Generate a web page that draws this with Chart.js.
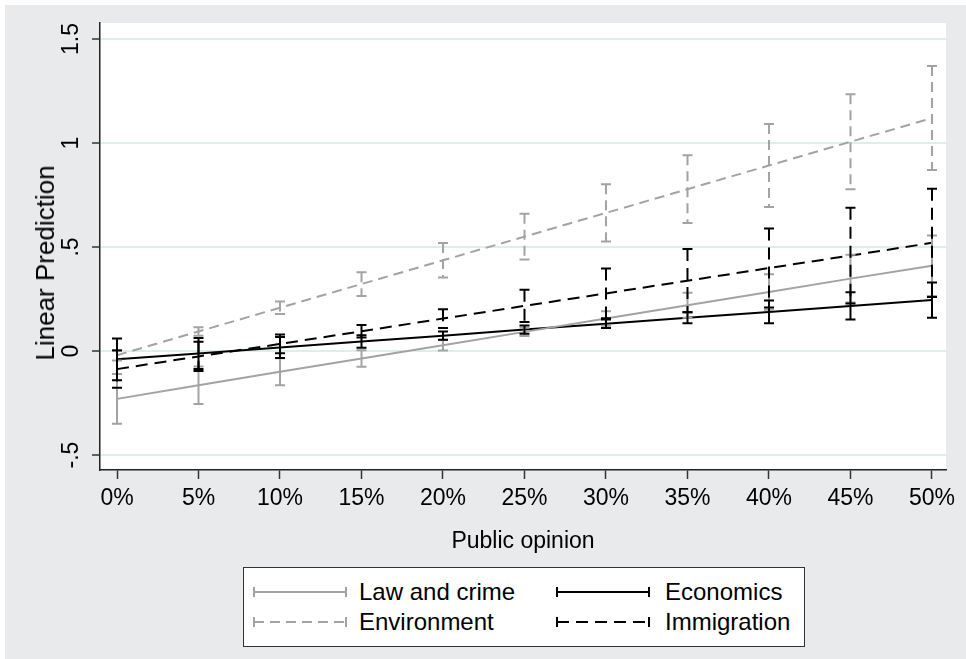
<!DOCTYPE html>
<html>
<head>
<meta charset="utf-8">
<script src="https://cdn.jsdelivr.net/npm/chart.js@4/dist/chart.umd.min.js"></script>
<style>
  html, body { margin: 0; padding: 0; background: #ffffff; }
  #wrap { position: relative; width: 966px; height: 659px; }
  #chart { position: absolute; left: 0; top: 0; }
  #ytitle {
    position: absolute; left: 45px; top: 263px;
    transform: translate(-50%, -50%) rotate(-90deg);
    font-family: "Liberation Sans", Arial, sans-serif; font-size: 26px; color: #000;
    white-space: nowrap; line-height: 30px;
  }
  #legend {
    position: absolute; left: 243px; top: 567px; width: 560px; height: 78px;
    background: #ffffff; border: 1.5px solid #333333;
    font-family: "Liberation Sans", Arial, sans-serif; font-size: 24px; color: #000;
  }
  #legend .item { position: absolute; height: 28px; line-height: 28px; white-space: nowrap; }
  #legend svg { position: absolute; }
</style>
</head>
<body>
<div id="wrap">
  <canvas id="chart" width="966" height="659"></canvas>
  <div id="ytitle">Linear Prediction</div>
  <div id="legend"></div>
</div>
<script>
// Public opinion levels (percent)
const opinion = [0, 5, 10, 15, 20, 25, 30, 35, 40, 45, 50];

// Linear predictions with 95% confidence bounds, by policy area
const lawCrime   = [-0.23, -0.165, -0.10, -0.036, 0.028, 0.092, 0.156, 0.22, 0.284, 0.348, 0.41];
const lawCrimeLo = [-0.35, -0.255, -0.165, -0.076, 0.003, 0.072, 0.121, 0.16, 0.199, 0.233, 0.265];
const lawCrimeHi = [-0.11, -0.075, -0.035, 0.004, 0.053, 0.112, 0.191, 0.28, 0.369, 0.463, 0.555];

const environment   = [-0.02, 0.094, 0.208, 0.322, 0.436, 0.55, 0.664, 0.778, 0.892, 1.006, 1.12];
const environmentLo = [-0.045, 0.074, 0.178, 0.265, 0.353, 0.44, 0.526, 0.615, 0.692, 0.778, 0.87];
const environmentHi = [0.005, 0.114, 0.238, 0.379, 0.519, 0.66, 0.802, 0.941, 1.092, 1.234, 1.37];

const economics   = [-0.04, -0.012, 0.017, 0.046, 0.074, 0.103, 0.131, 0.16, 0.188, 0.217, 0.245];
const economicsLo = [-0.14, -0.087, -0.033, 0.016, 0.054, 0.083, 0.111, 0.133, 0.133, 0.152, 0.16];
const economicsHi = [0.06, 0.063, 0.067, 0.076, 0.094, 0.123, 0.151, 0.187, 0.243, 0.282, 0.33];

const immigration   = [-0.087, -0.026, 0.034, 0.095, 0.156, 0.217, 0.277, 0.338, 0.399, 0.459, 0.52];
const immigrationLo = [-0.177, -0.096, -0.011, 0.065, 0.111, 0.14, 0.157, 0.186, 0.209, 0.229, 0.26];
const immigrationHi = [0.003, 0.044, 0.079, 0.125, 0.201, 0.294, 0.397, 0.49, 0.589, 0.689, 0.78];

// Axis ticks
const xTicks = [0, 5, 10, 15, 20, 25, 30, 35, 40, 45, 50];
const yTicks = [-0.5, 0, 0.5, 1, 1.5];
const yTickLabels = ['-.5', '0', '.5', '1', '1.5'];

const GRAY = '#a3a3a3';
const BLACK = '#000000';
const FONT = '"Liberation Sans", Arial, sans-serif';

const series = [
  { label: 'Law and crime', y: lawCrime, lo: lawCrimeLo, hi: lawCrimeHi, color: GRAY, dash: [] },
  { label: 'Environment', y: environment, lo: environmentLo, hi: environmentHi, color: GRAY, dash: [10, 6] },
  { label: 'Economics', y: economics, lo: economicsLo, hi: economicsHi, color: BLACK, dash: [] },
  { label: 'Immigration', y: immigration, lo: immigrationLo, hi: immigrationHi, color: BLACK, dash: [12, 7] }
];

const datasets = series.map(s => ({
  label: s.label,
  data: opinion.map((x, i) => ({ x: x, y: s.y[i] })),
  lo: s.lo,
  hi: s.hi,
  borderColor: s.color,
  borderWidth: 2,
  borderDash: s.dash,
  pointRadius: 0,
  fill: false,
  tension: 0
}));

// Page background and white plot region
const backdrop = {
  id: 'backdrop',
  beforeDraw(chart) {
    const { ctx, chartArea: a } = chart;
    ctx.save();
    ctx.fillStyle = '#ffffff';
    ctx.fillRect(0, 0, chart.width, chart.height);
    ctx.fillStyle = '#e9eaec';
    ctx.fillRect(5, 5, chart.width - 5, chart.height - 5);
    ctx.fillStyle = '#ffffff';
    ctx.fillRect(a.left, a.top, a.right - a.left, a.bottom - a.top);
    ctx.restore();
  }
};

// Capped confidence intervals at each opinion level
const errorBars = {
  id: 'errorBars',
  afterDatasetsDraw(chart) {
    const { ctx, scales: { x, y } } = chart;
    const cap = 5;
    chart.data.datasets.forEach((ds) => {
      ctx.save();
      ctx.strokeStyle = ds.borderColor;
      ctx.lineWidth = 2;
      ds.data.forEach((p, i) => {
        const px = x.getPixelForValue(p.x);
        const yl = y.getPixelForValue(ds.lo[i]);
        const yh = y.getPixelForValue(ds.hi[i]);
        ctx.setLineDash(ds.borderDash);
        ctx.beginPath();
        ctx.moveTo(px, yh);
        ctx.lineTo(px, yl);
        ctx.stroke();
        ctx.setLineDash([]);
        ctx.beginPath();
        ctx.moveTo(px - cap, yh); ctx.lineTo(px + cap, yh);
        ctx.moveTo(px - cap, yl); ctx.lineTo(px + cap, yl);
        ctx.stroke();
      });
      ctx.restore();
    });
  }
};

new Chart(document.getElementById('chart'), {
  type: 'line',
  data: { datasets: datasets },
  plugins: [backdrop, errorBars],
  options: {
    responsive: false,
    animation: false,
    layout: { padding: { left: 0, top: 23, right: 20, bottom: 99 } },
    plugins: { legend: { display: false }, tooltip: { enabled: false } },
    scales: {
      x: {
        type: 'linear',
        min: -1.043,
        max: 50.86,
        afterBuildTicks: (s) => { s.ticks = xTicks.map(v => ({ value: v })); },
        afterFit: (s) => { s.height = 90; },
        ticks: {
          autoSkip: false,
          maxRotation: 0,
          padding: 6,
          color: '#000',
          font: { family: FONT, size: 23 },
          callback: (v) => v + '%'
        },
        grid: { display: true, drawOnChartArea: false, drawTicks: true, tickLength: 9, tickColor: '#333', tickWidth: 1.5 },
        border: { display: true, color: '#222', width: 1.5 },
        title: {
          display: true, text: 'Public opinion', color: '#000',
          font: { family: FONT, size: 23 }, padding: { top: 0, bottom: 5 }
        }
      },
      y: {
        type: 'linear',
        min: -0.572,
        max: 1.577,
        afterBuildTicks: (s) => { s.ticks = yTicks.map(v => ({ value: v })); },
        afterFit: (s) => { s.width = 100; },
        ticks: {
          autoSkip: false,
          minRotation: 90,
          maxRotation: 90,
          crossAlign: 'center',
          padding: 4,
          color: '#000',
          font: { family: FONT, size: 23 },
          callback: (v) => yTickLabels[yTicks.indexOf(v)]
        },
        grid: { display: true, drawOnChartArea: true, color: '#ddedf0', lineWidth: 2, drawTicks: true, tickLength: 8, tickColor: '#333', tickWidth: 1.5 },
        border: { display: true, color: '#222', width: 1.5 },
        title: { display: false }
      }
    }
  }
});

// Legend: line-with-caps keys in two columns
(function buildLegend() {
  const box = document.getElementById('legend');
  const cols = [{ sx: 9, tx: 115 }, { sx: 312, tx: 421 }];
  const rows = [24, 54];
  const order = [[0, 0, 0], [2, 0, 1], [1, 1, 0], [3, 1, 1]]; // series, row, col
  order.forEach(([si, r, c]) => {
    const s = series[si];
    const w = 94;
    const svgNS = 'http://www.w3.org/2000/svg';
    const svg = document.createElementNS(svgNS, 'svg');
    svg.setAttribute('width', w);
    svg.setAttribute('height', 14);
    svg.style.left = cols[c].sx + 'px';
    svg.style.top = (rows[r] - 7) + 'px';
    const line = document.createElementNS(svgNS, 'path');
    line.setAttribute('d', `M1 7 H${w - 1} M1 2 V12 M${w - 1} 2 V12`);
    line.setAttribute('stroke', s.color);
    line.setAttribute('stroke-width', '2');
    line.setAttribute('fill', 'none');
    svg.appendChild(line);
    if (s.dash.length) {
      line.setAttribute('d', `M1 2 V12 M${w - 1} 2 V12`);
      const d = document.createElementNS(svgNS, 'path');
      d.setAttribute('d', `M1 7 H${w - 1}`);
      d.setAttribute('stroke', s.color);
      d.setAttribute('stroke-width', '2');
      d.setAttribute('stroke-dasharray', s.dash.join(' '));
      svg.appendChild(d);
    }
    box.appendChild(svg);
    const t = document.createElement('div');
    t.className = 'item';
    t.textContent = s.label;
    t.style.left = cols[c].tx + 'px';
    t.style.top = (rows[r] - 14) + 'px';
    box.appendChild(t);
  });
})();
</script>
</body>
</html>
